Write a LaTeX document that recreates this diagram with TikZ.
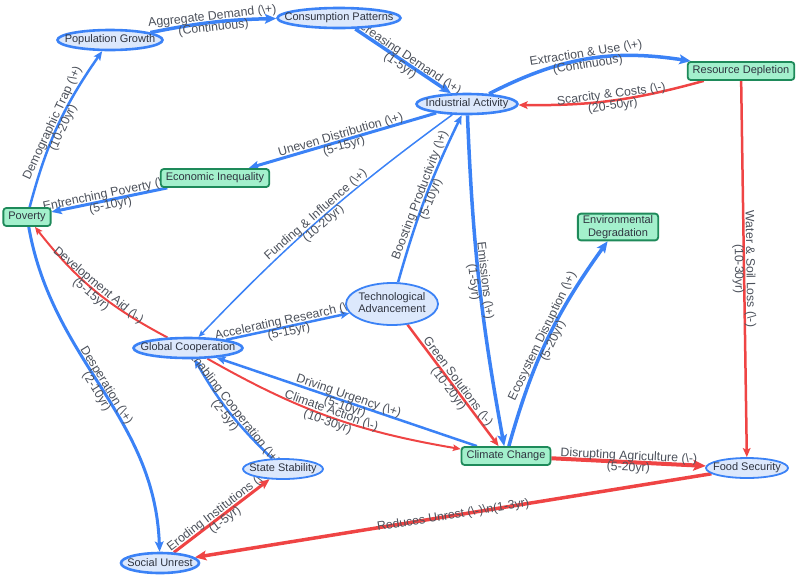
\documentclass[tikz,border=0pt]{standalone}
\usepackage{fontspec}
\setmainfont{Liberation Sans}
\usepackage{tikz}
\usetikzlibrary{arrows.meta,shapes.geometric}
\pgfdeclarelayer{bg}
\pgfsetlayers{bg,main}

\definecolor{flowblue}{HTML}{3B82F6}
\definecolor{flowred}{HTML}{EF4444}
\definecolor{blobfill}{HTML}{DCE8FC}
\definecolor{boxfill}{HTML}{A3F0CC}
\definecolor{boxline}{HTML}{1E8A5A}
\definecolor{inktext}{HTML}{2F3440}
\definecolor{lbltext}{HTML}{4C515B}

\newcommand{\ctr}[1]{\makebox[0pt]{#1}}
\newcommand{\plusmark}{(\textbackslash+)}
\newcommand{\minusmark}{(\textbackslash-)}

\begin{document}
\begin{tikzpicture}[
  x=1pt, y=-1pt,
  blob/.style={ellipse, draw=flowblue, fill=blobfill, line width=2.6pt, inner sep=0pt,
    minimum height=20pt, text=inktext, font=\fontsize{11}{12.5}\selectfont},
  lightblob/.style={blob, line width=1.8pt},
  box/.style={rectangle, rounded corners=3pt, draw=boxline, fill=boxfill, line width=1.8pt,
    inner xsep=5pt, inner ysep=2pt, minimum height=18pt, align=center, text=inktext,
    font=\fontsize{11}{12.5}\selectfont},
  posarr/.style={draw=flowblue, -{Stealth[length=3pt 2.4, width'=0pt .85, inset'=0pt .2]}},
  negarr/.style={draw=flowred, -{Stealth[length=3pt 2.4, width'=0pt .85, inset'=0pt .2]}},
  lbl/.style={sloped, midway, align=center, inner sep=0pt, text=lbltext,
    font=\fontsize{12.3}{11.5}\selectfont}
]
\useasboundingbox (0,0) rectangle (800,582);

% causal factors
\node[blob, minimum width=105pt] (pop) at (110,40) {\ctr{Population Growth}};
\node[blob, minimum width=123pt] (cons) at (339,18) {\ctr{Consumption Patterns}};
\node[blob, minimum width=101pt] (ind) at (467,104) {\ctr{Industrial Activity}};
\node[box] (res) at (741,71) {Resource Depletion};
\node[box] (ineq) at (215,178) {Economic Inequality};
\node[box] (pov) at (27,217) {Poverty};
\node[box] (env) at (618,227) {Environmental\\Degradation};
\node[lightblob, minimum width=92pt, minimum height=42pt] (tech) at (392,304)
  {\ctr{\begin{tabular}{@{}c@{}}Technological\\Advancement\end{tabular}}};
\node[blob, minimum width=109pt] (coop) at (188,348) {\ctr{Global Cooperation}};
\node[box] (clim) at (506,456) {Climate Change};
\node[lightblob, minimum width=82pt] (food) at (747,468) {\ctr{Food Security}};
\node[lightblob, minimum width=80pt] (stab) at (283,469) {\ctr{State Stability}};
\node[blob, minimum width=78pt] (unrest) at (160,563) {\ctr{Social Unrest}};

% links
\begin{pgfonlayer}{bg}
\draw[posarr, line width=3.5pt] (pop) to[bend left=5] node[lbl] {Aggregate Demand \plusmark\\(Continuous)} (cons);
\draw[posarr, line width=3.5pt] (cons) -- node[lbl] {Increasing Demand \plusmark\\(1-5yr)} (ind);
\draw[posarr, line width=3.5pt] (ind) to[bend left=18] node[lbl] {Extraction \& Use \plusmark\\(Continuous)} (res);
\draw[negarr, line width=2.5pt] (res) to[bend left=8] node[lbl] {Scarcity \& Costs \minusmark\\(20-50yr)} (ind);
\draw[posarr, line width=3pt] (ind) -- node[lbl] {Uneven Distribution \plusmark\\(5-15yr)} (ineq);
\draw[posarr, line width=3pt] (ineq) -- node[lbl] {Entrenching Poverty \plusmark\\(5-10yr)} (pov);
\draw[posarr, line width=2.5pt] (pov) to[bend left=10] node[lbl] {Demographic Trap \plusmark\\(10-20yr)} (pop);
\draw[posarr, line width=3pt] (pov) to[out=-80, in=92] node[lbl] {Desperation \plusmark\\(2-10yr)} (unrest);
\draw[negarr, line width=2pt] (coop) to[bend left=12] node[lbl] {Development Aid \minusmark\\(5-15yr)} (pov);
\draw[posarr, line width=1.5pt] (ind) to[bend right=5] node[lbl] {Funding \& Influence \plusmark\\(10-20yr)} (coop);
\draw[posarr, line width=2.5pt] (coop) -- node[lbl] {Accelerating Research \plusmark\\(5-15yr)} (tech);
\draw[posarr, line width=2.5pt] (tech) to[bend left=5] node[lbl] {Boosting Productivity \plusmark\\(5-10yr)} (ind);
\draw[posarr, line width=3.5pt] (ind) to[bend right=4] node[lbl] {Emissions \plusmark\\(1-5yr)} (clim);
\draw[posarr, line width=3.5pt] (clim) to[bend left=10] node[lbl] {Ecosystem Disruption \plusmark\\(5-20yr)} (env);
\draw[negarr, line width=2.5pt] (tech) -- node[lbl] {Green Solutions \minusmark\\(10-20yr)} (clim);
\draw[posarr, line width=2.5pt] (clim) -- node[lbl] {Driving Urgency \plusmark\\(5-10yr)} (coop);
\draw[negarr, line width=2pt] (coop) to[bend right=10] node[lbl] {Climate Action \minusmark\\(10-30yr)} (clim);
\draw[negarr, line width=4pt] (clim) -- node[lbl] {Disrupting Agriculture \minusmark\\(5-20yr)} (food);
\draw[negarr, line width=2.5pt] (res) -- node[lbl] {Water \& Soil Loss \minusmark\\(10-30yr)} (food);
\draw[negarr, line width=3.5pt] (food) -- node[lbl] {Reduces Unrest \minusmark\textbackslash n(1-3yr)} (unrest);
\draw[negarr, line width=3pt] (unrest) -- node[lbl] {Eroding Institutions \minusmark\\(1-5yr)} (stab);
\draw[posarr, line width=2.5pt] (stab) to[bend left=8] node[lbl] {Enabling Cooperation \plusmark\\(2-5yr)} (coop);
\end{pgfonlayer}
\end{tikzpicture}
\end{document}
